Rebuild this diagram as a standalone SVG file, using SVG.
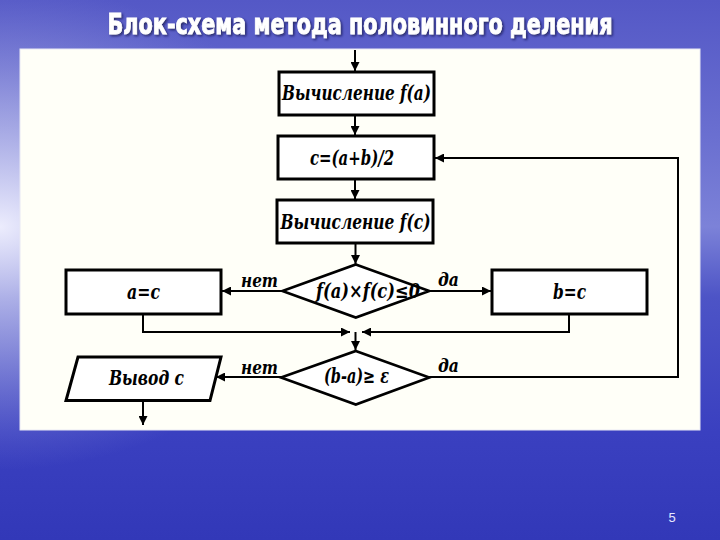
<svg xmlns="http://www.w3.org/2000/svg" width="720" height="540" viewBox="0 0 720 540">
<style>
.box{fill:#ffffff;stroke:#000;stroke-width:3}
.dia{fill:#ffffff;stroke:#000;stroke-width:2.6}
.con{fill:none;stroke:#000;stroke-width:2}
.t{font-weight:700;font-style:italic;font-size:20px;fill:#000}
.lbl{font-weight:700;font-style:italic;font-size:19px;fill:#000}
.title{font-weight:700;font-size:29px;fill:#ffffff;stroke:#ffffff;stroke-width:0.8}
</style>
<defs>
<linearGradient id="bg" x1="0" y1="0" x2="0" y2="1">
<stop offset="0" stop-color="#5458c6"/>
<stop offset="0.25" stop-color="#6a6fd0"/>
<stop offset="0.42" stop-color="#7c82d8"/>
<stop offset="0.55" stop-color="#4d54c6"/>
<stop offset="0.8" stop-color="#3a40c0"/>
<stop offset="1" stop-color="#3238b8"/>
</linearGradient>
<radialGradient id="glow" cx="0" cy="0.42" r="0.45">
<stop offset="0" stop-color="#f2f2ff" stop-opacity="0.95"/>
<stop offset="0.5" stop-color="#c8caf0" stop-opacity="0.5"/>
<stop offset="1" stop-color="#9a9de0" stop-opacity="0"/>
</radialGradient>
<filter id="sh" x="-10%" y="-50%" width="120%" height="200%">
<feDropShadow dx="1.5" dy="1.5" stdDeviation="1" flood-color="#101040" flood-opacity="0.7"/>
</filter>
<marker id="ah" viewBox="0 0 10 10" refX="10" refY="5" markerWidth="5" markerHeight="4.5" orient="auto" markerUnits="strokeWidth">
<path d="M0,0 L10,5 L0,10 z" fill="#000"/>
</marker>
</defs>
<rect x="0" y="0" width="720" height="540" fill="url(#bg)"/>
<rect x="0" y="0" width="720" height="540" fill="url(#glow)"/>
<rect x="20" y="49" width="680" height="381" fill="#fffff8" stroke="#e8e8f4" stroke-width="1"/>
<g id="title">
<text class="title" font-family="DejaVu Sans Condensed, DejaVu Sans, sans-serif" x="360" y="34" text-anchor="middle" textLength="505" lengthAdjust="spacingAndGlyphs" filter="url(#sh)">Блок-схема метода половинного деления</text>
</g>
<g id="connectors" font-family="DejaVu Serif, Liberation Serif, serif">
<line class="con" x1="355" y1="50" x2="355" y2="71" marker-end="url(#ah)"/>
<line class="con" x1="355" y1="115" x2="355" y2="135" marker-end="url(#ah)"/>
<line class="con" x1="355" y1="179" x2="355" y2="199" marker-end="url(#ah)"/>
<line class="con" x1="355.5" y1="243" x2="355.5" y2="264" marker-end="url(#ah)"/>
<line class="con" x1="282" y1="291" x2="222" y2="291" marker-end="url(#ah)"/>
<line class="con" x1="429" y1="291" x2="491" y2="291" marker-end="url(#ah)"/>
<polyline class="con" points="143,314 143,332 350,332" marker-end="url(#ah)"/>
<polyline class="con" points="569,314 569,332 362,332" marker-end="url(#ah)"/>
<line class="con" x1="355.5" y1="332" x2="355.5" y2="350" marker-end="url(#ah)"/>
<line class="con" x1="281" y1="377" x2="216" y2="377" marker-end="url(#ah)"/>
<polyline class="con" points="429,377 678,377 678,158 435,158" marker-end="url(#ah)"/>
<line class="con" x1="143" y1="401" x2="143" y2="425" marker-end="url(#ah)"/>
<text class="lbl" x="241" y="287" textLength="37" lengthAdjust="spacingAndGlyphs">нет</text>
<text class="lbl" x="438" y="286" textLength="21" lengthAdjust="spacingAndGlyphs">да</text>
<text class="lbl" x="241" y="374" textLength="37" lengthAdjust="spacingAndGlyphs">нет</text>
<text class="lbl" x="438" y="372" textLength="21" lengthAdjust="spacingAndGlyphs">да</text>
</g>
<g id="calc-fa" font-family="DejaVu Serif, Liberation Serif, serif">
<rect class="box" x="279" y="72" width="155" height="43"/>
<text class="t" x="282" y="100" textLength="149" lengthAdjust="spacingAndGlyphs">Вычисление f(a)</text>
</g>
<g id="calc-c" font-family="DejaVu Serif, Liberation Serif, serif">
<rect class="box" x="278" y="136" width="156" height="43"/>
<text class="t" x="310" y="165" textLength="84" lengthAdjust="spacingAndGlyphs">c=(a+b)/2</text>
</g>
<g id="calc-fc" font-family="DejaVu Serif, Liberation Serif, serif">
<rect class="box" x="277" y="200" width="156" height="43"/>
<text class="t" x="280.5" y="229" textLength="150" lengthAdjust="spacingAndGlyphs">Вычисление  f(c)</text>
</g>
<g id="cond1" font-family="DejaVu Serif, Liberation Serif, serif">
<polygon class="dia" points="355.8,264.5 429.3,291 355.8,317.5 282.4,291"/>
<text class="t" font-size="17" x="316" y="298" textLength="104" lengthAdjust="spacingAndGlyphs">f(a)×f(c)≤0</text>
</g>
<g id="set-a" font-family="DejaVu Serif, Liberation Serif, serif">
<rect class="box" x="66" y="270" width="155" height="44"/>
<text class="t" x="127" y="299" textLength="33" lengthAdjust="spacingAndGlyphs">a=c</text>
</g>
<g id="set-b" font-family="DejaVu Serif, Liberation Serif, serif">
<rect class="box" x="492" y="270" width="155" height="44"/>
<text class="t" x="553" y="299" textLength="33" lengthAdjust="spacingAndGlyphs">b=c</text>
</g>
<g id="cond2" font-family="DejaVu Serif, Liberation Serif, serif">
<polygon class="dia" points="355.8,351 429.3,377.5 355.8,404.5 281,377.5"/>
<text class="t" x="324" y="383" textLength="65" lengthAdjust="spacingAndGlyphs">(b-a)≥ ε</text>
</g>
<g id="output" font-family="DejaVu Serif, Liberation Serif, serif">
<polygon class="box" points="78,357 221,357 210,400.5 66,400.5"/>
<text class="t" x="109" y="385" textLength="75" lengthAdjust="spacingAndGlyphs">Вывод c</text>
</g>
<text x="672" y="522" font-family="Liberation Sans, Arial, sans-serif" font-size="13" fill="#e8e8ff" text-anchor="middle">5</text>
</svg>
